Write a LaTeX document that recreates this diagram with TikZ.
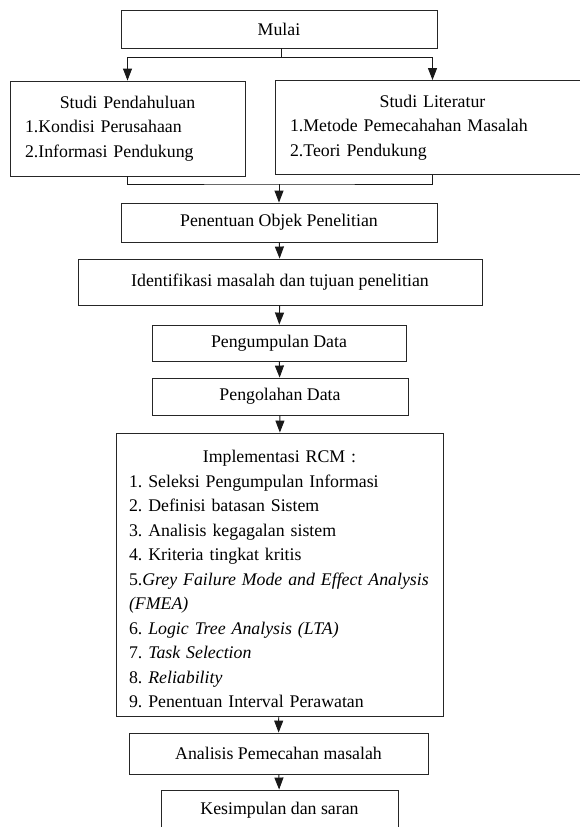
\documentclass[tikz,border=0pt]{standalone}
\usepackage{fontspec}
\setmainfont{Liberation Serif}
\usetikzlibrary{arrows.meta}
\frenchspacing

\begin{document}
\begin{tikzpicture}[x=1pt,y=-1pt,
    kotak/.style={draw=black!85,line width=.9pt,fill=white,inner sep=0pt,
      font=\fontsize{17.8}{24.5}\selectfont},
    panah/.style={-{Triangle[width=9pt,length=12pt]},line width=.9pt,draw=black!90}]
  \useasboundingbox[fill=white] (0,0) rectangle (579,827);

  \node[kotak,minimum width=316pt,minimum height=38pt] (mulai) at (279,29) {Mulai};
  \node[kotak,minimum width=235pt,minimum height=95pt,text width=205pt,align=left]
    (pendahuluan) at (127.5,128.5)
    {{\centering Studi Pendahuluan\par}1.Kondisi Perusahaan\\2.Informasi Pendukung};
  \node[kotak,minimum width=315pt,minimum height=94pt,text width=285pt,align=left]
    (literatur) at (432.5,127.5)
    {{\centering Studi Literatur\par}1.Metode Pemecahahan Masalah\\2.Teori Pendukung};
  \node[kotak,minimum width=316pt,minimum height=39pt] (objek) at (279,222.5) {Penentuan Objek Penelitian};
  \node[kotak,minimum width=404pt,minimum height=46pt] (identifikasi) at (280,282) {Identifikasi masalah dan tujuan penelitian};
  \node[kotak,minimum width=254pt,minimum height=36pt] (pengumpulan) at (279,343) {Pengumpulan Data};
  \node[kotak,minimum width=256pt,minimum height=37pt] (pengolahan) at (280,396.5) {Pengolahan Data};
  \node[kotak,minimum width=327pt,minimum height=283pt,text width=301pt,align=left]
    (rcm) at (279.5,574.5)
    {{\centering\rule{0pt}{22pt}Implementasi RCM :\par}1. Seleksi Pengumpulan Informasi\\
     2. Definisi batasan Sistem\\
     3. Analisis kegagalan sistem\\
     4. Kriteria tingkat kritis\\
     5.\textit{Grey Failure Mode and Effect Analysis}\\
     \textit{(FMEA)}\\
     6. \textit{Logic Tree Analysis (LTA)}\\
     7. \textit{Task Selection}\\
     8. \textit{Reliability}\\
     9. Penentuan Interval Perawatan};
  \node[kotak,minimum width=299pt,minimum height=41pt] (analisis) at (278.5,753.5) {Analisis Pemecahan masalah};
  \node[kotak,minimum width=237pt,minimum height=41pt] (kesimpulan) at (279.5,810.5) {Kesimpulan dan saran};

  \coordinate (cabang) at (281,57);
  \coordinate (gabung) at (279,184);
  \draw[line width=.9pt,draw=black!90] (mulai.south -| cabang) -- (cabang);
  \draw[panah] (cabang) -| (pendahuluan.north);
  \draw[panah] (cabang) -| (literatur.north);
  \draw[line width=.9pt,draw=black!90] (pendahuluan.south) |- (gabung) -| (literatur.south);
  \draw[panah] (gabung) -- (objek);
  \draw[panah] (objek) -- (identifikasi);
  \draw[panah] (identifikasi) -- (pengumpulan);
  \draw[panah] (pengumpulan) -- (pengolahan);
  \draw[panah] (pengolahan) -- (rcm);
  \draw[panah] (rcm) -- (analisis);
  \draw[panah] (analisis) -- (kesimpulan);

\end{tikzpicture}
\end{document}
